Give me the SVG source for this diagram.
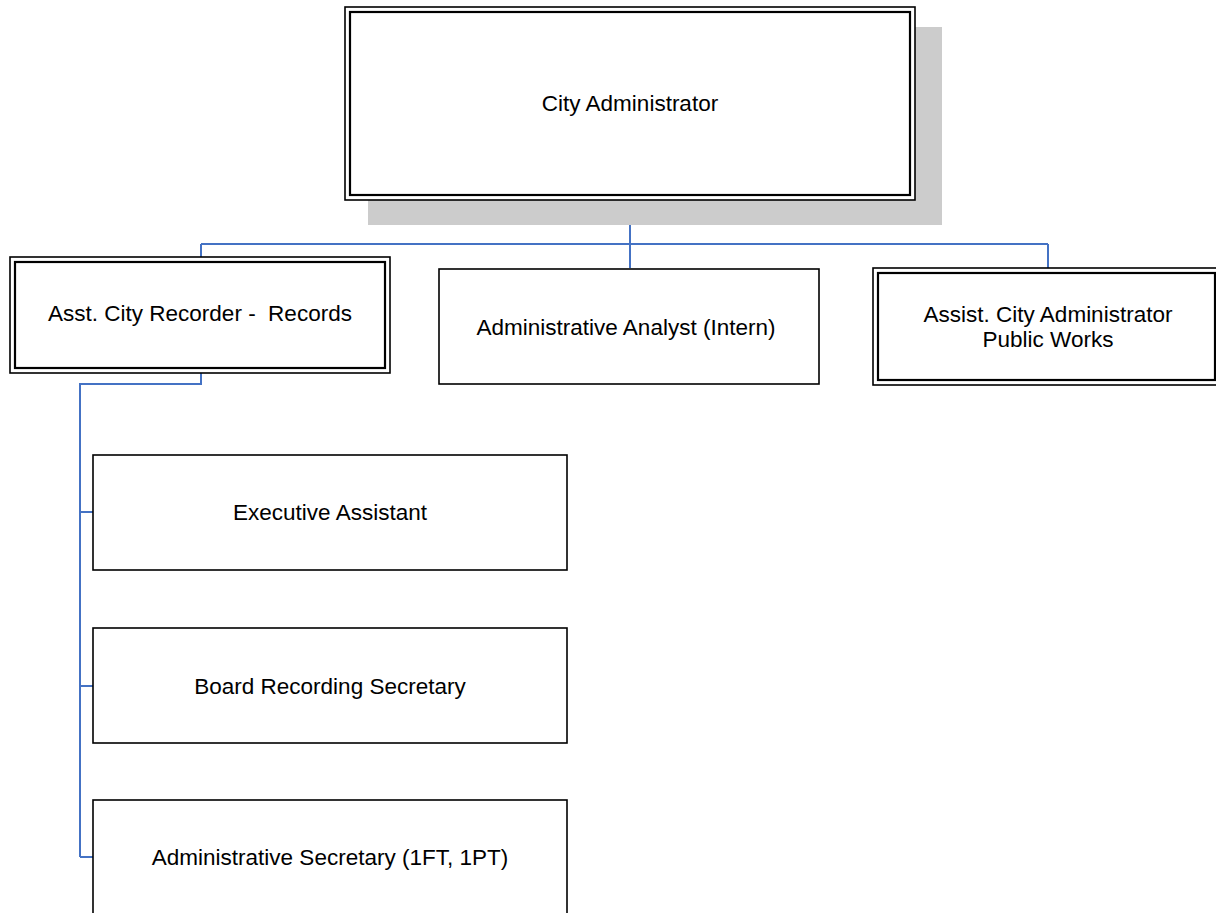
<svg xmlns="http://www.w3.org/2000/svg" width="1216" height="913" viewBox="0 0 1216 913">
  <style>
    .box { fill: #ffffff; stroke: #000000; stroke-width: 1.6; }
    .inner { fill: none; stroke: #000000; stroke-width: 2.2; }
    .label { font-family: "Liberation Sans", Arial, sans-serif; font-size: 22.5px; fill: #000000; text-anchor: middle; }
    .link { fill: none; stroke: #4472c4; stroke-width: 2; }
  </style>
  <rect width="1216" height="913" fill="#ffffff"/>

  <!-- reporting lines -->
  <g id="connectors">
    <path class="link" d="M630 200 V268"/>
    <path class="link" d="M201 244 H1048"/>
    <path class="link" d="M201 244 V257"/>
    <path class="link" d="M1048 244 V268"/>
    <path class="link" d="M201 373 V384 H80 V857"/>
    <path class="link" d="M80 512 H93"/>
    <path class="link" d="M80 686 H93"/>
    <path class="link" d="M80 857 H93"/>
  </g>

  <g id="city-administrator">
    <rect x="368" y="27" width="574" height="198" fill="#cccccc"/>
    <rect class="box" x="345" y="7" width="570" height="193"/>
    <rect class="inner" x="350" y="12" width="560" height="183"/>
    <text class="label" x="630" y="111">City Administrator</text>
  </g>

  <g id="asst-city-recorder">
    <rect class="box" x="10" y="257" width="380" height="116"/>
    <rect class="inner" x="15" y="262" width="370" height="106"/>
    <text class="label" x="200" y="321" xml:space="preserve">Asst. City Recorder -  Records</text>
  </g>

  <g id="administrative-analyst">
    <rect class="box" x="439" y="269" width="380" height="115"/>
    <text class="label" x="626" y="335">Administrative Analyst (Intern)</text>
  </g>

  <g id="assist-city-administrator">
    <rect class="box" x="873" y="268" width="347" height="117"/>
    <rect class="inner" x="878" y="273" width="337" height="107"/>
    <text class="label" x="1048" y="322">Assist. City Administrator</text>
    <text class="label" x="1048" y="347">Public Works</text>
  </g>

  <g id="executive-assistant">
    <rect class="box" x="93" y="455" width="474" height="115"/>
    <text class="label" x="330" y="520">Executive Assistant</text>
  </g>

  <g id="board-recording-secretary">
    <rect class="box" x="93" y="628" width="474" height="115"/>
    <text class="label" x="330" y="694">Board Recording Secretary</text>
  </g>

  <g id="administrative-secretary">
    <rect class="box" x="93" y="800" width="474" height="125"/>
    <text class="label" x="330" y="865">Administrative Secretary (1FT, 1PT)</text>
  </g>
</svg>
